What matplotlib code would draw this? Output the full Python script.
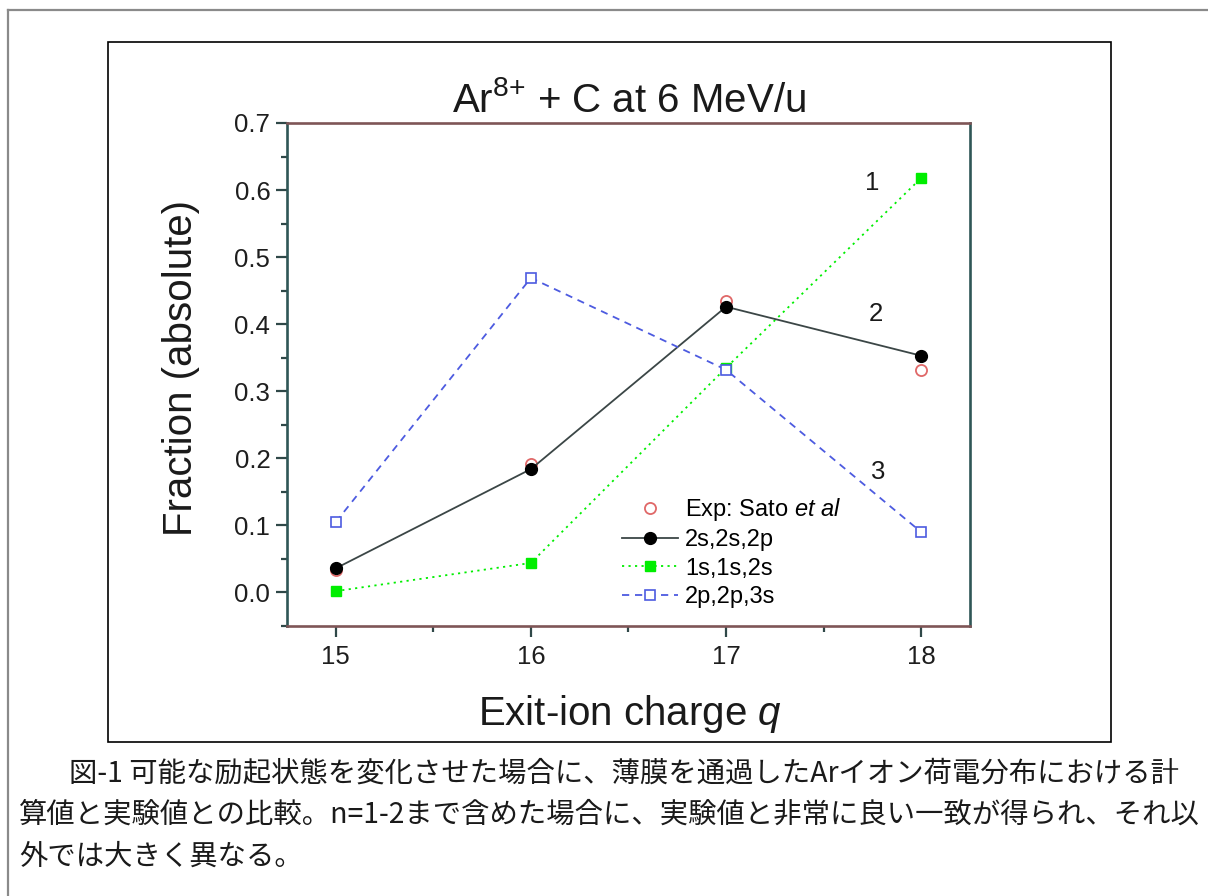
import matplotlib
matplotlib.use('Agg')
import matplotlib.pyplot as plt
from matplotlib.lines import Line2D
from matplotlib.patches import Rectangle
from matplotlib.ticker import MultipleLocator

plt.rcParams['font.family'] = ['Liberation Sans', 'DejaVu Sans']
plt.rcParams['mathtext.fontset'] = 'custom'
plt.rcParams['mathtext.rm'] = 'Liberation Sans'
plt.rcParams['mathtext.it'] = 'Liberation Sans:italic'

# exit-ion charge distribution, Ar8+ on C at 6 MeV/u
charge = [15, 16, 17, 18]
exp_sato = [0.033, 0.191, 0.434, 0.331]
calc_2s2s2p = [0.036, 0.184, 0.426, 0.353]
calc_1s1s2s = [0.002, 0.044, 0.335, 0.618]
calc_2p2p3s = [0.105, 0.469, 0.332, 0.090]
curve_tags = ['1', '2', '3']

caption = [
    '図-1 可能な励起状態を変化させた場合に、薄膜を通過したArイオン荷電分布における計',
    '算値と実験値との比較。n=1-2まで含めた場合に、実験値と非常に良い一致が得られ、それ以',
    '外では大きく異なる。',
]

W, H = 1208, 896
fig = plt.figure(figsize=(W / 100, H / 100), dpi=100)
fig.patch.set_facecolor('white')

# page frame (top and left edge only) and the box round the plot
fig.add_artist(Line2D([8 / W, 1], [1 - 10 / H, 1 - 10 / H], color='#8a8a8a', lw=1.6))
fig.add_artist(Line2D([8 / W, 8 / W], [0, 1 - 10 / H], color='#8a8a8a', lw=1.6))
fig.add_artist(Rectangle((108 / W, 1 - 742 / H), (1111 - 108) / W, (742 - 42) / H,
                         transform=fig.transFigure, fill=False, ec='black', lw=1.2))

ax = fig.add_axes([287 / W, 1 - 626 / H, (970 - 287) / W, (626 - 123) / H])

ax.plot(charge, calc_1s1s2s, color='#00ee00', ls=(0, (1.2, 2.4)), lw=1.3,
        marker='s', ms=7.5, mfc='#00ee00', mec='#00ee00', zorder=2,
        label='1s,1s,2s')
ax.plot(charge, exp_sato, ls='none', marker='o', ms=8, mfc='none',
        mec='#e06868', mew=1.3, zorder=3, label='Exp: Sato $\\mathit{et\\ al}$')
ax.plot(charge, calc_2s2s2p, color='#3b4646', lw=1.3, marker='o', ms=8.5,
        mfc='black', mec='black', zorder=4, label='2s,2s,2p')
ax.plot(charge, calc_2p2p3s, color='#4d5be0', ls=(0, (4, 3.2)), lw=1.3,
        marker='s', ms=7, mfc='white', mec='#4d5be0', mew=1.2, zorder=5,
        label='2p,2p,3s')

for tag, xy in zip(curve_tags, [(17.75, 0.61), (17.77, 0.415), (17.78, 0.18)]):
    ax.text(xy[0], xy[1], tag, fontsize=18.5, ha='center', va='center', color='#1a1a1a')

ax.set_xlim(14.75, 18.25)
ax.set_ylim(-0.05, 0.7)
ax.xaxis.set_major_locator(MultipleLocator(1))
ax.xaxis.set_minor_locator(MultipleLocator(0.5))
ax.yaxis.set_major_locator(MultipleLocator(0.1))
ax.yaxis.set_minor_locator(MultipleLocator(0.05))
ax.yaxis.set_major_formatter(matplotlib.ticker.FormatStrFormatter('%.1f'))

for side in ['left', 'right']:
    ax.spines[side].set_color('#2f5656')
    ax.spines[side].set_linewidth(1.9)
for side in ['top', 'bottom']:
    ax.spines[side].set_color('#7e5556')
    ax.spines[side].set_linewidth(1.9)

ax.tick_params(which='major', direction='out', length=8, width=1.6,
               color='#2f4848', labelsize=18.5, labelcolor='#1e1e1e')
ax.tick_params(which='minor', direction='out', length=4.5, width=1.6, color='#2f4848')
ax.tick_params(axis='x', which='major', pad=6)
ax.tick_params(axis='y', which='major', pad=4)

ax.text(0.5, 1.022, 'Ar$^{8{+}}$ + C at 6 MeV/u', transform=ax.transAxes,
        fontsize=29, ha='center', va='baseline', color='#1a1a1a')
ax.text(0.502, -0.197, 'Exit-ion charge $\\mathit{q}$', transform=ax.transAxes,
        fontsize=29, ha='center', va='baseline', color='#1a1a1a')
ax.text(-0.155, 0.513, 'Fraction (absolute)', transform=ax.transAxes, rotation=90,
        fontsize=29, ha='center', va='center', color='#1a1a1a')

# legend order: experiment first, then the three calculations
handles, labels = ax.get_legend_handles_labels()
order = [1, 2, 0, 3]
ax.legend([handles[i] for i in order], [labels[i] for i in order],
          loc='upper left', bbox_to_anchor=(0.483, 0.268), frameon=False,
          fontsize=17, handlelength=2.4, handletextpad=0.3,
          labelspacing=0.27, borderpad=0.2, borderaxespad=0)

cap_kw = dict(fontsize=20.4, va='center', ha='left', color='#1a1a1a',
              family=['Noto Sans CJK JP', 'DejaVu Sans'])
fig.text(69 / W, 1 - 774 / H, caption[0], **cap_kw)
fig.text(19 / W, 1 - 815 / H, caption[1], **cap_kw)
fig.text(19 / W, 1 - 857 / H, caption[2], **cap_kw)

fig.savefig('out.png', dpi=100)
